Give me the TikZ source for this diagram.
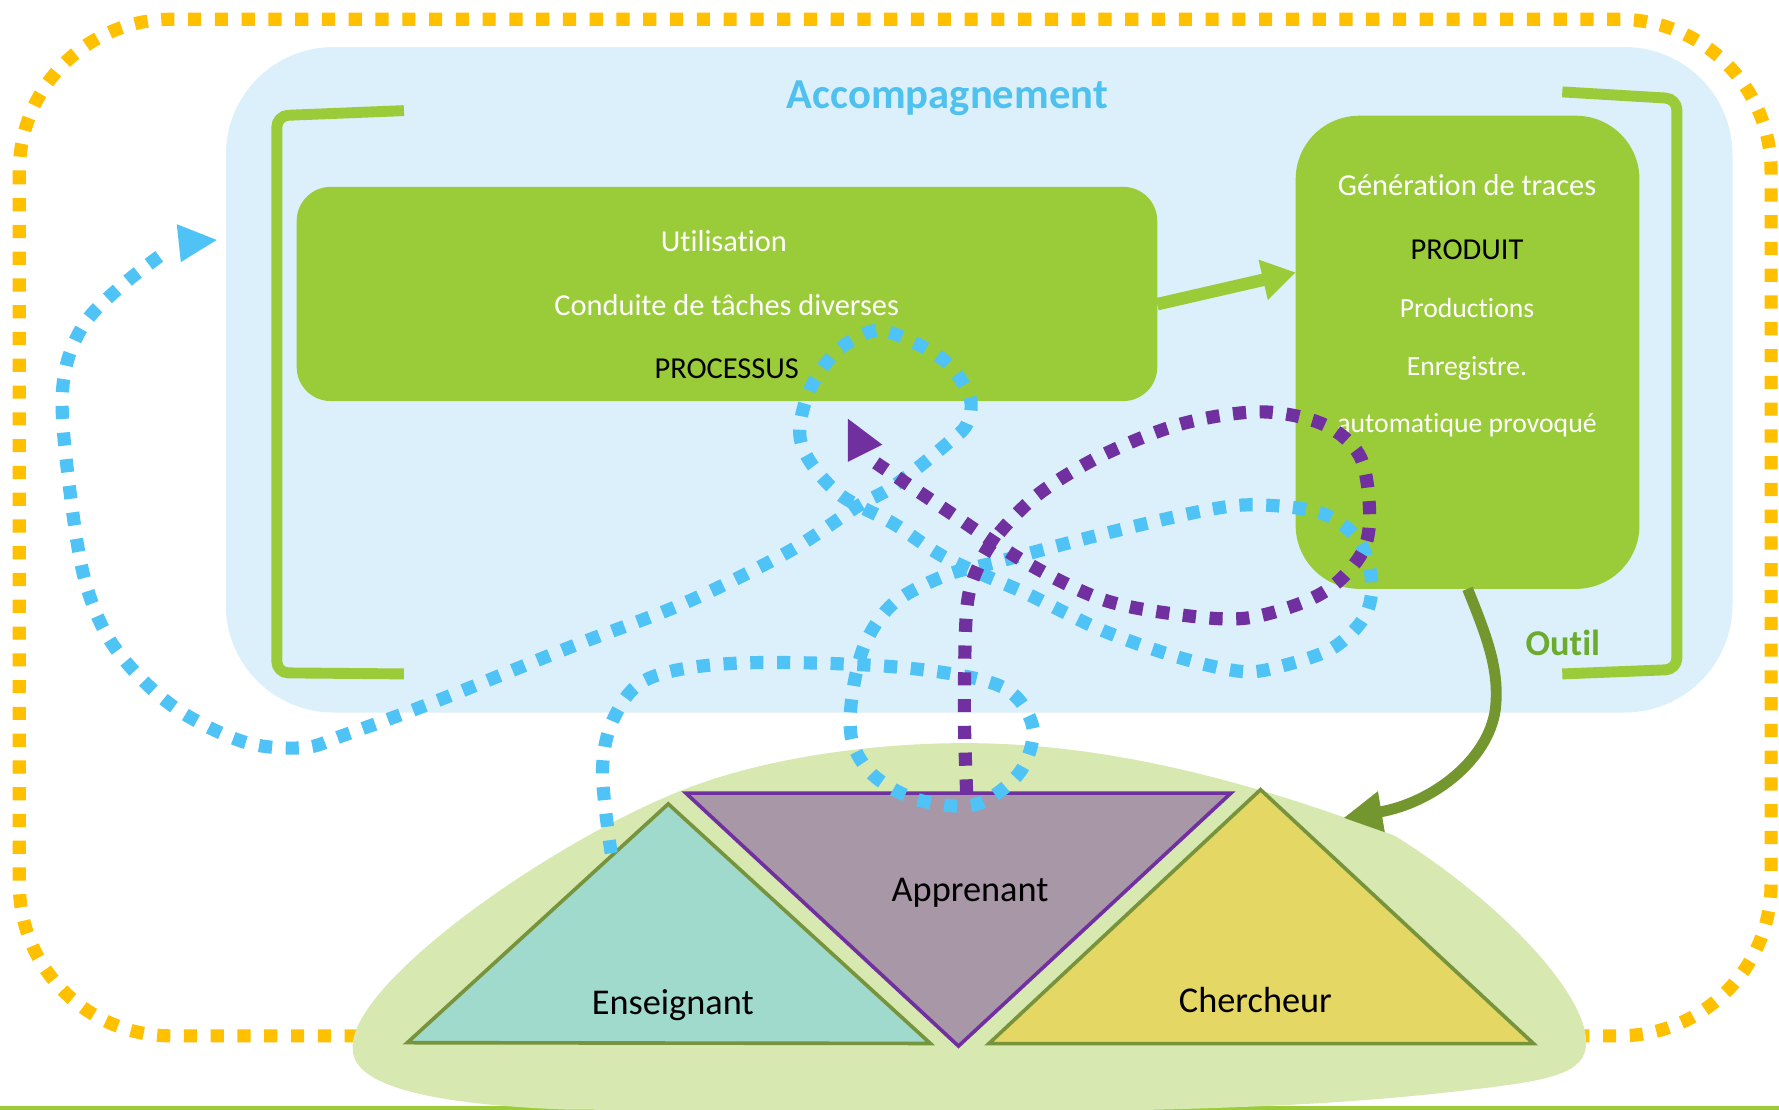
\documentclass[tikz,border=0pt]{standalone}
\usepackage{fontspec}
\setmainfont{Carlito}[Ligatures={NoCommon}]
\usetikzlibrary{arrows.meta}
\definecolor{orangeD}{HTML}{FFC000}
\definecolor{skyfill}{HTML}{DBF0FA}
\definecolor{boxgreen}{HTML}{9ACB39}
\definecolor{darkgreen}{HTML}{73972E}
\definecolor{dotblue}{HTML}{50C3F6}
\definecolor{dotpurple}{HTML}{7030A0}
\definecolor{blobgreen}{HTML}{D7E8B1}
\definecolor{olivec}{HTML}{77933C}
\definecolor{tealfill}{HTML}{A0DACC}
\definecolor{mauvefill}{HTML}{A897A6}
\definecolor{yellowfill}{HTML}{E4D764}
\definecolor{titleblue}{HTML}{4FC1EF}
\definecolor{outilgreen}{HTML}{6CAB2E}
\begin{document}
\begin{tikzpicture}[x=0.5pt,y=-0.5pt,
  sqdots/.style={line width=5.8pt, dash pattern=on 5.8pt off 6pt},
  greenbox/.style={fill=boxgreen, draw=none, inner sep=0pt, outer sep=0pt},
  bracket/.style={draw=boxgreen, line width=4.8pt, rounded corners=5pt},
  boxtxt/.style={anchor=base, text=white, font=\fontsize{13.4}{16}\selectfont},
  boxtxtb/.style={anchor=base, text=black, font=\fontsize{13.4}{16}\selectfont},
  smalltxt/.style={anchor=base, text=white, font=\fontsize{12.2}{15}\selectfont},
  trilabel/.style={anchor=base, text=black, font=\fontsize{16}{19}\selectfont},
  tri/.style={line width=1.6pt, line join=miter}
]
\useasboundingbox (0,0) rectangle (1568,978);
\fill[white] (0,0) rectangle (1568,978);
% bottom line
\draw[boxgreen, line width=1.5pt] (0,976.5) -- (1568,976.5);
% orange dotted frame
\draw[orangeD, sqdots, rounded corners=67pt] (17,17) rectangle (1561,913);
% light blue area
\fill[skyfill, rounded corners=47.5pt] (199,41.5) rectangle (1527,628);
\node[anchor=base, text=titleblue, font=\bfseries\fontsize{18.8}{22}\selectfont] (acc) at (835,96) {Accompagnement};
% brackets
\draw[bracket] (356,97.5) -- (244,102) -- (244,593) -- (356,594);
\draw[bracket] (1377,81) -- (1478,87) -- (1478,590) -- (1377,594);
\node[anchor=base, text=outilgreen, font=\bfseries\fontsize{16}{19}\selectfont] (outil) at (1377.5,578) {Outil};
% green boxes
\node[greenbox, rounded corners=15pt, minimum width=379.25pt, minimum height=94.4pt] (util) at (640.75,259.1) {};
\node[greenbox, rounded corners=28pt, minimum width=151.5pt, minimum height=208.5pt] (gen) at (1293.5,310.5) {};
\node[boxtxt] (u1) at (638,222) {Utilisation};
\node[boxtxt] (u2) at (640.5,278.5) {Conduite de tâches diverses};
\node[boxtxtb] (u3) at (640.5,334) {PROCESSUS};
\node[boxtxt] (g1) at (1293,172) {Génération de traces};
\node[boxtxtb] (g2) at (1293,229) {PRODUIT};
\node[smalltxt] (g3) at (1293,280) {Productions};
\node[smalltxt] (g4) at (1293,331) {Enregistre.};
\node[smalltxt] (g5) at (1293,381.5) {automatique provoqué};
% straight green arrow
\draw[boxgreen, line width=5.5pt, -{Triangle[length=14.7pt,width=17.2pt]}]
  ([yshift=-4.5pt]util.east) -- ([yshift=35.2pt]gen.west);
% blob
\fill[blobgreen] (311,925) .. controls (305,870) and (480,745) .. (600,697)
  .. controls (680,665) and (780,655) .. (850,655)
  .. controls (960,655) and (1080,680) .. (1230,737)
  .. controls (1330,800) and (1400,880) .. (1398,920)
  .. controls (1397,945) and (1370,952) .. (1300,960)
  .. controls (1200,972) and (1100,978) .. (900,980)
  -- (500,978) .. controls (420,975) and (311,965) .. (311,925) -- cycle;
% triangles
\filldraw[tri, fill=tealfill, draw=olivec] (359,919) coordinate (ensL) -- (589,708.6) coordinate (ensT) -- (820,919.7) coordinate (ensR) -- cycle;
\filldraw[tri, fill=mauvefill, draw=dotpurple] (604.5,699) coordinate (appL) -- (1085,699) coordinate (appR) -- (844.8,922) coordinate (appB) -- cycle;
\filldraw[tri, fill=yellowfill, draw=olivec] (871.6,919.8) coordinate (chL) -- (1111,696) coordinate (chT) -- (1351.6,919.8) coordinate (chR) -- cycle;
\node[trilabel] (lapp) at (855,794.8) {Apprenant};
\node[trilabel] (lens) at (593,894.6) {Enseignant};
\node[trilabel] (lch) at (1106.5,892.4) {Chercheur};
% dark green curved arrow
\coordinate (chtip) at (1184,721);
\draw[darkgreen, line width=4.8pt, -{Triangle[length=17pt,width=17pt]}]
  (gen.south) .. controls (1310,560) and (1322,590) .. (1318,625)
  .. controls (1312,670) and (1262,708) .. (chtip);
% blue dotted path
\draw[dotblue, sqdots] plot[smooth, tension=0.55] coordinates {
  (538.7,752) (531,680) (541,633) (571.7,598) (649.5,584.5) (787.8,587.7)
  (880,604) (909.6,637.8) (903,674) (880,698.5) (852,710.5) (806,704)
  (769.4,683) (751,653) (751,613.5) (762.4,567.6) (787.8,531.5) (833.8,507)
  (880,495) (972,470.7) (1064,449.5) (1110.5,445) (1165.7,452.6) (1198,477)
  (1209,513) (1202.6,543.8) (1175,571) (1133.5,586) (1096.6,592) (1041,580)
  (972,555.8) (903,522.4) (833.8,491.8) (787.8,461.7) (741.7,437) (714,407)
  (704.8,380) (714,343) (737,310) (769.4,291.7) (797,297.8) (833.8,319)
  (854.6,349.4) (852.3,373.7) (833.8,391.9) (787.8,428.4) (755.4,446.5)
  (695.4,486) (603.4,531.5) (506,569) (379.4,620) (303,648) (268,659)
  (217.5,654.7) (162,629) (121.4,595) (91,554) (70.8,494) (55.7,377.7)
  (58,324) (76,283) (111,248.6) (150,219)};
\fill[dotblue] (155.8,197.6) -- (191,211.5) coordinate (bluetip) -- (159.4,231) -- cycle;
% purple dotted path
\draw[dotpurple, sqdots] plot[smooth, tension=0.55] coordinates {
  (852,698.5) (850,628.4) (852,537.6) (861.5,501) (880,470.6) (916.6,434.5)
  (972,401) (1041,373.7) (1110.5,363) (1165.7,373.7) (1198,401) (1207,446.5)
  (1202.6,483) (1179,513) (1147,531.5) (1096.6,545) (1041,542) (972,528.5)
  (903,495) (833.8,449.5) (772,408)};
\fill[dotpurple] (747.2,369) coordinate (purptip) -- (777.6,391.9) -- (747.2,407.1) -- cycle;
\end{tikzpicture}
\end{document}
